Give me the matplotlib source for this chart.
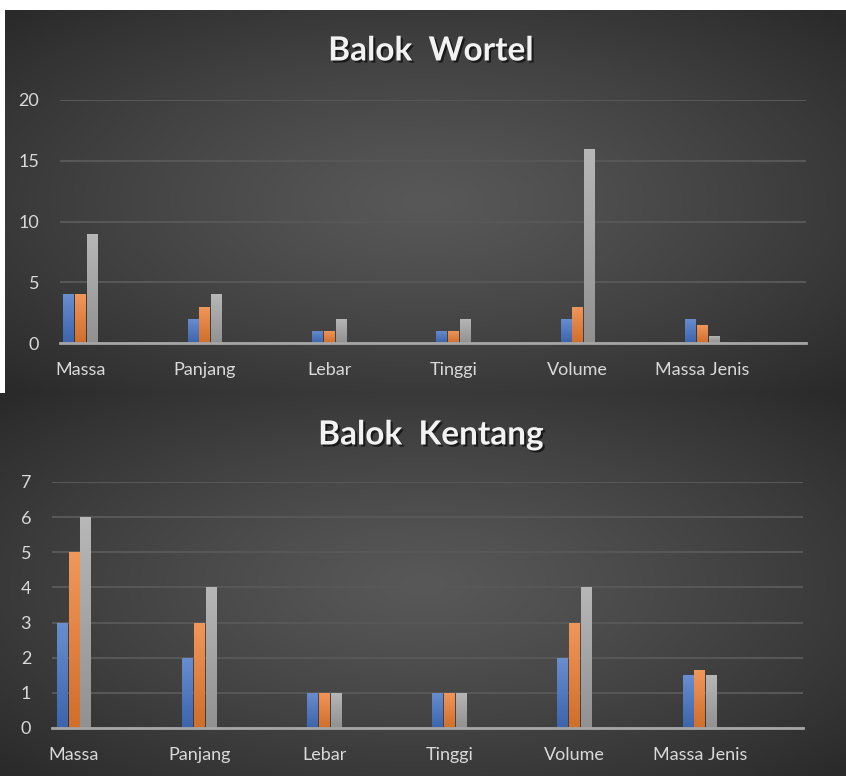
import numpy as np
import matplotlib.pyplot as plt
import matplotlib.patheffects as pe
from matplotlib.colors import to_rgb

categories = ['Massa', 'Panjang', 'Lebar', 'Tinggi', 'Volume', 'Massa Jenis']
wortel_1 = [4, 2, 1, 1, 2, 2]
wortel_2 = [4, 3, 1, 1, 3, 1.45]
wortel_3 = [9, 4, 2, 2, 16, 0.6]
kentang_1 = [3, 2, 1, 1, 2, 1.5]
kentang_2 = [5, 3, 1, 1, 3, 1.65]
kentang_3 = [6, 4, 1, 1, 4, 1.5]
colors = ['#4472C4', '#ED7D31', '#A5A5A5']

plt.rcParams['font.family'] = ['Lato', 'DejaVu Sans']

W, H = 846, 776
fig = plt.figure(figsize=(W / 100, H / 100), dpi=100, facecolor='white')


def px(x0, y0, x1, y1):
    # pixel box measured from top-left -> figure rect
    return [x0 / W, 1 - y1 / H, (x1 - x0) / W, (y1 - y0) / H]


def background(rect):
    bg = fig.add_axes(rect, zorder=0)
    yy, xx = np.mgrid[-1:1:300j, -1:1:300j]
    r = np.clip(np.sqrt(xx ** 2 + yy ** 2) / 1.4, 0, 1)
    c0 = np.array(to_rgb('#585858'))
    c1 = np.array(to_rgb('#2a2a2a'))
    img = c0 + (c1 - c0) * r[..., None] ** 1.2
    bg.imshow(img, aspect='auto', extent=(0, 1, 0, 1), interpolation='bilinear')
    bg.axis('off')


def gradient_bar(ax, bar, color):
    x, y = bar.get_xy()
    w, h = bar.get_width(), bar.get_height()
    c = np.array(to_rgb(color))
    top = c + (1 - c) * 0.2
    bot = c * 0.88
    g = np.linspace(0, 1, 64)[:, None, None]
    img = bot + (top - bot) * g
    im = ax.imshow(img, extent=(x, x + w, y, y + h), origin='lower',
                   aspect='auto', zorder=3)
    im.set_clip_path(bar)


def draw(rect, title, title_y, series, ymax, yticks, left_off):
    ax = fig.add_axes(rect, zorder=1)
    ax.patch.set_alpha(0)
    x = np.arange(len(categories))
    width, step = 0.087, 0.095
    for k, (vals, col) in enumerate(zip(series, colors)):
        bars = ax.bar(x + (k - 1) * step, vals, width, color=col, zorder=3)
        for b in bars:
            gradient_bar(ax, b, col)
    ax.set_xlim(-left_off, len(categories) - left_off)
    ax.set_ylim(0, ymax)
    ax.set_yticks(yticks)
    ax.set_xticks(x)
    ax.set_xticklabels(categories)
    ax.grid(axis='y', color='#575757', linewidth=1.5, zorder=1)
    ax.set_axisbelow(True)
    for s in ['top', 'right', 'left']:
        ax.spines[s].set_visible(False)
    ax.spines['bottom'].set_color('#a6a6a6')
    ax.spines['bottom'].set_linewidth(2)
    ax.spines['bottom'].set_zorder(4)
    ax.tick_params(length=0, colors='#d9d9d9', labelsize=13)
    ax.tick_params(axis='y', pad=15)
    ax.tick_params(axis='x', pad=14)
    fig.text(431 / W, 1 - title_y / H, title, ha='center', va='center',
             color='#f2f2f2', fontsize=24, fontweight='bold',
             path_effects=[pe.withSimplePatchShadow(offset=(1.5, -1.5),
                                                    shadow_rgbFace='black', alpha=0.6)])
    return ax


background(px(5, 10, 846, 393))
background(px(0, 393, 846, 776))

draw(px(60, 100, 806, 343), 'Balok  Wortel', 51,
     [wortel_1, wortel_2, wortel_3], 20, [0, 5, 10, 15, 20], 0.165)
draw(px(52, 482, 803, 728), 'Balok  Kentang', 435,
     [kentang_1, kentang_2, kentang_3], 7, range(0, 8), 0.176)

fig.savefig('out.png', dpi=100, facecolor='white')
